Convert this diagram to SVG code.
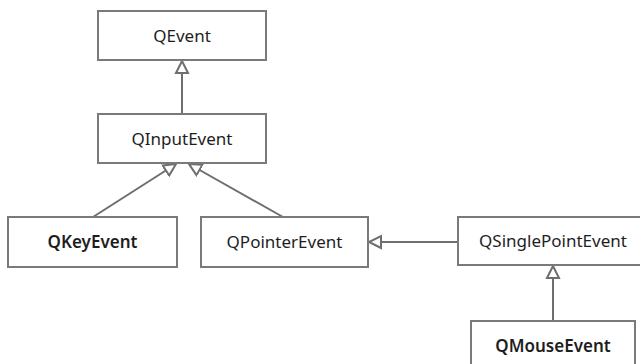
<svg xmlns="http://www.w3.org/2000/svg" width="640" height="364" viewBox="0 0 640 364">
<style>
.box{fill:#fff;stroke:#7a7a7a;stroke-width:2}
.lbl{font-family:"Noto Sans","Open Sans",sans-serif;font-size:17px;fill:#1e1e1e;text-anchor:middle}
.b{font-weight:600}
.conn{stroke:#6e6e6e;stroke-width:2;fill:none}
</style>
<defs>
<marker id="tri" markerUnits="userSpaceOnUse" markerWidth="16" markerHeight="16" refX="13" refY="7" orient="auto" viewBox="0 0 16 14">
<path d="M1,1 L13,7 L1,13 Z" fill="#fff" stroke="#6e6e6e" stroke-width="2" stroke-linejoin="miter"/>
</marker>
</defs>
<rect width="640" height="364" fill="#fff"/>
<g id="connectors">
<line class="conn" x1="182" y1="114" x2="182" y2="61" marker-end="url(#tri)"/>
<line class="conn" x1="93" y1="217" x2="176" y2="164" marker-end="url(#tri)"/>
<line class="conn" x1="283" y1="217" x2="189" y2="164" marker-end="url(#tri)"/>
<line class="conn" x1="458" y1="242" x2="369" y2="242" marker-end="url(#tri)"/>
<line class="conn" x1="553" y1="321" x2="553" y2="266" marker-end="url(#tri)"/>
</g>
<g id="QEvent"><rect class="box" x="98" y="11" width="168" height="49"/><text class="lbl" x="182" y="42">QEvent</text></g>
<g id="QInputEvent"><rect class="box" x="98" y="114" width="168" height="49"/><text class="lbl" x="182" y="145">QInputEvent</text></g>
<g id="QKeyEvent"><rect class="box" x="8" y="217" width="169" height="50"/><text class="lbl b" x="92.5" y="248">QKeyEvent</text></g>
<g id="QPointerEvent"><rect class="box" x="201" y="217" width="167" height="50"/><text class="lbl" x="284.5" y="248">QPointerEvent</text></g>
<g id="QSinglePointEvent"><rect class="box" x="458" y="217" width="190" height="48"/><text class="lbl" x="553" y="247">QSinglePointEvent</text></g>
<g id="QMouseEvent"><rect class="box" x="471" y="321" width="164" height="50"/><text class="lbl b" x="553" y="352">QMouseEvent</text></g>
</svg>
